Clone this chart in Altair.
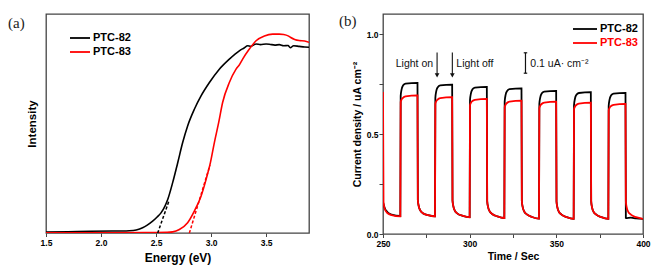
import altair as alt
import pandas as pd

# ---------------- Panel (a): absorption edge ----------------
e82 = [1.5, 1.7, 1.9, 2.1, 2.2, 2.257, 2.32, 2.378, 2.42, 2.469, 2.51, 2.545, 2.58,
       2.606, 2.651, 2.697, 2.742, 2.787, 2.848, 2.909, 2.985, 3.075, 3.166, 3.257,
       3.30, 3.333, 3.36, 3.409, 3.45, 3.5, 3.53, 3.58, 3.62, 3.66, 3.7, 3.72, 3.75,
       3.8, 3.85, 3.89]
i82 = [0.004, 0.006, 0.008, 0.009, 0.009, 0.010, 0.014, 0.024, 0.036, 0.054, 0.073,
       0.092, 0.122, 0.153, 0.230, 0.321, 0.413, 0.489, 0.565, 0.626, 0.687, 0.748,
       0.794, 0.832, 0.845, 0.855, 0.853, 0.863, 0.860, 0.863, 0.862, 0.858, 0.860,
       0.855, 0.856, 0.846, 0.855, 0.852, 0.849, 0.848]

e83 = [1.5, 1.8, 2.1, 2.4, 2.6, 2.651, 2.712, 2.787, 2.848, 2.909, 2.955, 2.994, 3.03,
       3.069, 3.105, 3.166, 3.227, 3.26, 3.287, 3.348, 3.409, 3.485, 3.56, 3.62, 3.66,
       3.7, 3.72, 3.76, 3.8, 3.85, 3.89]
i83 = [0.001, 0.001, 0.001, 0.002, 0.003, 0.005, 0.016, 0.047, 0.100, 0.168, 0.245,
       0.321, 0.413, 0.504, 0.596, 0.687, 0.748, 0.770, 0.794, 0.840, 0.878, 0.900,
       0.908, 0.908, 0.906, 0.900, 0.894, 0.884, 0.879, 0.877, 0.871]

tan82_e = [2.515, 2.62]
tan82_i = [0.0, 0.15]
tan83_e = [2.803, 2.99]
tan83_i = [0.0, 0.31]

# ---------------- Panel (b): photocurrent response ----------------
t_sec = [250.0, 250.3, 251.0, 252.5, 255.0, 259.9,
         260.0, 260.2, 260.7, 261.5, 263.0, 269.9, 270.1, 270.6, 271.5, 273.0, 276.0, 279.9,
         280.0, 280.2, 280.7, 281.5, 283.0, 289.9, 290.1, 290.6, 291.5, 293.0, 296.0, 299.9,
         300.0, 300.2, 300.7, 301.5, 303.0, 309.9, 310.1, 310.6, 311.5, 313.0, 316.0, 319.9,
         320.0, 320.2, 320.7, 321.5, 323.0, 329.9, 330.1, 330.6, 331.5, 333.0, 336.0, 339.9,
         340.0, 340.2, 340.7, 341.5, 343.0, 349.9, 350.1, 350.6, 351.5, 353.0, 356.0, 359.9,
         360.0, 360.2, 360.7, 361.5, 363.0, 369.9, 370.1, 370.6, 371.5, 373.0, 376.0, 379.9,
         380.0, 380.2, 380.7, 381.5, 383.0, 389.9, 390.1, 390.6, 391.5, 393.0, 396.0, 400.0]
j82 = [0.16, 0.15, 0.13, 0.11, 0.097, 0.090,
       0.090, 0.69, 0.722, 0.742, 0.752, 0.756, 0.17, 0.14, 0.118, 0.104, 0.094, 0.088,
       0.088, 0.68, 0.713, 0.733, 0.743, 0.747, 0.168, 0.138, 0.116, 0.102, 0.091, 0.084,
       0.084, 0.67, 0.702, 0.722, 0.732, 0.736, 0.165, 0.136, 0.114, 0.100, 0.088, 0.080,
       0.080, 0.662, 0.694, 0.714, 0.724, 0.728, 0.165, 0.134, 0.112, 0.098, 0.085, 0.077,
       0.077, 0.65, 0.682, 0.702, 0.712, 0.716, 0.163, 0.133, 0.111, 0.097, 0.084, 0.076,
       0.076, 0.643, 0.675, 0.695, 0.705, 0.709, 0.163, 0.133, 0.111, 0.097, 0.084, 0.076,
       0.076, 0.64, 0.672, 0.692, 0.702, 0.706, 0.080, 0.079, 0.081, 0.082, 0.078, 0.076]
j83 = [0.71, 0.16, 0.125, 0.105, 0.094, 0.088,
       0.088, 0.66, 0.672, 0.681, 0.688, 0.693, 0.17, 0.14, 0.118, 0.104, 0.094, 0.088,
       0.088, 0.651, 0.663, 0.672, 0.679, 0.684, 0.168, 0.138, 0.116, 0.102, 0.091, 0.083,
       0.083, 0.643, 0.655, 0.664, 0.671, 0.676, 0.165, 0.136, 0.114, 0.100, 0.088, 0.080,
       0.080, 0.634, 0.646, 0.655, 0.662, 0.667, 0.165, 0.134, 0.112, 0.098, 0.085, 0.077,
       0.077, 0.629, 0.641, 0.650, 0.657, 0.662, 0.163, 0.133, 0.111, 0.097, 0.084, 0.076,
       0.076, 0.624, 0.636, 0.645, 0.652, 0.657, 0.163, 0.133, 0.111, 0.097, 0.084, 0.076,
       0.076, 0.618, 0.630, 0.639, 0.646, 0.651, 0.163, 0.133, 0.111, 0.097, 0.084, 0.076]

series = ["PTC-82", "PTC-83"]
colors = ["#000000", "#ff0000"]

arrow_t = [281.2, 290.0]
arrow_top = 0.908
arrow_tip = 0.787
scalebar_t = 332.2
scalebar_lo = 0.804
scalebar_hi = 0.906

annot_text = ["Light on", "Light off", "0.1 uA\u00b7 cm\u207b\u00b2"]
annot_t = [278.9, 292.3, 335.0]
annot_i = [0.852, 0.852, 0.852]

SANS = "Liberation Sans"
SERIF = "Liberation Serif"

# ---------------- build panel (a) ----------------
df_a82 = pd.DataFrame({"E": e82, "I": i82})
df_a83 = pd.DataFrame({"E": e83, "I": i83})
df_t82 = pd.DataFrame({"E": tan82_e, "I": tan82_i})
df_t83 = pd.DataFrame({"E": tan83_e, "I": tan83_i})

xa = alt.X("E:Q", scale=alt.Scale(domain=[1.5, 3.89], nice=False, zero=False),
           axis=alt.Axis(title="Energy (eV)",
                         values=[1.5, 1.75, 2.0, 2.25, 2.5, 2.75, 3.0, 3.25, 3.5, 3.75],
                         labelExpr="datum.value % 0.5 == 0 ? format(datum.value, '.1f') : ''",
                         labelFlush=False, tickSize=3.5, labelPadding=2,
                         titlePadding=5, titleFontSize=12))
ya = alt.Y("I:Q", scale=alt.Scale(domain=[0, 1], nice=False),
           axis=alt.Axis(title="Intensity", labels=False, ticks=False,
                         titlePadding=9, titleFontSize=11.5))

a_black = alt.Chart(df_a82).mark_line(color=colors[0], strokeWidth=1.6, clip=True,
                                      interpolate="monotone").encode(x=xa, y=ya)
a_red = alt.Chart(df_a83).mark_line(color=colors[1], strokeWidth=1.6, clip=True,
                                    interpolate="monotone").encode(x="E:Q", y="I:Q")
a_tan82 = alt.Chart(df_t82).mark_line(color=colors[0], strokeWidth=1.5,
                                      strokeDash=[3, 2]).encode(x="E:Q", y="I:Q")
a_tan83 = alt.Chart(df_t83).mark_line(color=colors[1], strokeWidth=1.5,
                                      strokeDash=[3, 2]).encode(x="E:Q", y="I:Q")


def legend_item(label, color, x0, x1, y, text_color):
    d = pd.DataFrame({"label": [label]})
    line = alt.Chart(d).mark_rule(color=color, strokeWidth=1.8).encode(
        x=alt.value(x0), x2=alt.value(x1), y=alt.value(y))
    txt = alt.Chart(d).mark_text(align="left", baseline="middle", font=SANS,
                                 fontWeight="bold", fontSize=11, color=text_color).encode(
        x=alt.value(x1 + 3), y=alt.value(y), text="label:N")
    return line + txt


def panel_label(label, x, y):
    d = pd.DataFrame({"label": [label]})
    return alt.Chart(d).mark_text(align="left", baseline="middle", font=SERIF,
                                  fontSize=15, color="#222222").encode(
        x=alt.value(x), y=alt.value(y), text="label:N")


left = alt.layer(
    a_black, a_red, a_tan82, a_tan83,
    legend_item(series[0], colors[0], 24, 44, 24, "#000000"),
    legend_item(series[1], colors[1], 24, 44, 38, "#000000"),
    panel_label("(a)", -38, 9),
).properties(width=263, height=219)

# ---------------- build panel (b) ----------------
df_b = pd.DataFrame({"t": t_sec, "j82": j82, "j83": j83})

xb = alt.X("t:Q", scale=alt.Scale(domain=[250, 400], nice=False, zero=False),
           axis=alt.Axis(title="Time / Sec", values=list(range(250, 401, 25)),
                         labelExpr="datum.value % 50 == 0 ? datum.label : ''",
                         labelFlush=False, tickSize=3.5, labelPadding=2,
                         titlePadding=3, titleFontSize=10.5))
yb = alt.Y("j82:Q", scale=alt.Scale(domain=[0, 1.1], nice=False),
           axis=alt.Axis(title="Current density / uA cm\u207b\u00b2",
                         values=[0, 0.25, 0.5, 0.75, 1.0],
                         labelExpr="datum.value % 0.5 == 0 ? format(datum.value, '.1f') : ''",
                         tickSize=4, labelPadding=1, titlePadding=4, titleFontSize=10.5))

b_black = alt.Chart(df_b).mark_line(color=colors[0], strokeWidth=1.8, clip=True,
                                    interpolate="monotone").encode(x=xb, y=yb)
b_red = alt.Chart(df_b).mark_line(color=colors[1], strokeWidth=1.8, clip=True,
                                  interpolate="monotone").encode(x="t:Q", y="j83:Q")

df_arrow = pd.DataFrame({"t": arrow_t, "top": [arrow_top] * 2, "tip": [arrow_tip + 0.01] * 2,
                         "head": [arrow_tip + 0.006] * 2})
b_arrow = alt.Chart(df_arrow).mark_rule(color="#111111", strokeWidth=1.1).encode(
    x="t:Q", y="top:Q", y2="tip:Q")
b_head = alt.Chart(df_arrow).mark_point(shape="triangle-down", filled=True, size=22,
                                        color="#111111", opacity=1).encode(x="t:Q", y="head:Q")

df_bar = pd.DataFrame({"t": [scalebar_t], "lo": [scalebar_lo], "hi": [scalebar_hi],
                       "a": [scalebar_t - 1.0], "b": [scalebar_t + 1.0]})
b_bar = alt.Chart(df_bar).mark_rule(color="#111111", strokeWidth=1.2).encode(
    x="t:Q", y="lo:Q", y2="hi:Q")
b_cap1 = alt.Chart(df_bar).mark_rule(color="#111111", strokeWidth=1.2).encode(
    x="a:Q", x2="b:Q", y="lo:Q")
b_cap2 = alt.Chart(df_bar).mark_rule(color="#111111", strokeWidth=1.2).encode(
    x="a:Q", x2="b:Q", y="hi:Q")

df_ann = pd.DataFrame({"t": annot_t, "I": annot_i, "txt": annot_text})
b_ann_r = alt.Chart(df_ann.iloc[[0]]).mark_text(align="right", baseline="middle", font=SANS,
                                                fontSize=10.5, color="#111111").encode(
    x="t:Q", y="I:Q", text="txt:N")
b_ann_l = alt.Chart(df_ann.iloc[[1, 2]]).mark_text(align="left", baseline="middle", font=SANS,
                                                   fontSize=10.5, color="#111111").encode(
    x="t:Q", y="I:Q", text="txt:N")

right = alt.layer(
    b_black, b_red, b_arrow, b_head, b_bar, b_cap1, b_cap2, b_ann_r, b_ann_l,
    legend_item(series[0], colors[0], 190, 214, 15, "#000000"),
    legend_item(series[1], colors[1], 190, 214, 29, colors[1]),
    panel_label("(b)", -44, 7),
).properties(width=260, height=220)

chart = alt.hconcat(left, right, spacing=28).properties(
    padding={"left": 7, "top": 13, "right": 5, "bottom": 5}
).configure_view(
    stroke="#444444", strokeWidth=1.3
).configure_axis(
    domain=False, grid=False,
    labelFont=SANS, labelFontWeight="bold", labelFontSize=8.5, labelColor="#000000",
    tickColor="#444444", tickWidth=1,
    titleFont=SANS, titleFontWeight="bold", titleColor="#000000"
)

chart.save("out.html", embed_options={"renderer": "svg", "actions": False})
